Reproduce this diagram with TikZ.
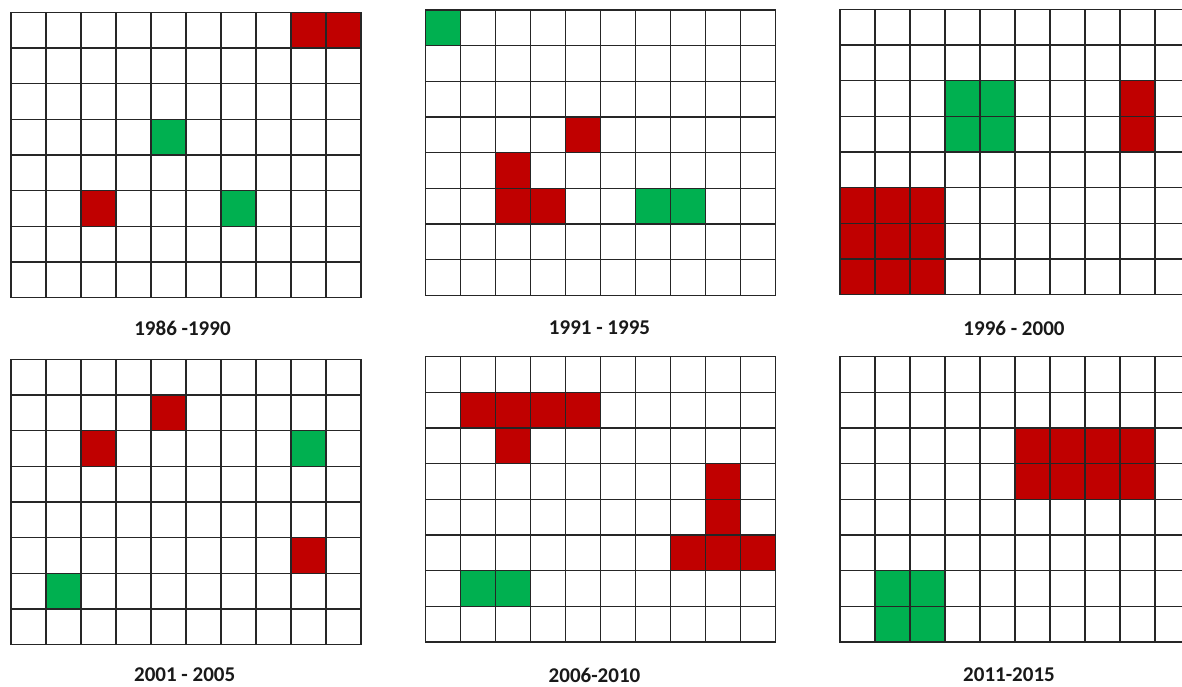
\documentclass[tikz,border=0pt]{standalone}
\usepackage{fontspec}
\setmainfont{Carlito}
\definecolor{cellred}{HTML}{C00000}
\definecolor{cellgreen}{HTML}{00B050}
\tikzset{
  gridline/.style={draw=black!85, line width=1.3pt, line cap=rect},
  redcell/.style={fill=cellred},
  greencell/.style={fill=cellgreen},
  yearlabel/.style={font=\bfseries\fontsize{21}{25}\selectfont, inner sep=0pt, text=black!90}
}
\newcommand\yeargrid[4]{%
  \begin{scope}[shift={(#1pt,-#2pt)}, x=35pt, y=-35.65pt]
    \foreach \c/\r in {#3} \fill[redcell] (\c,\r) rectangle ++(1,1);
    \foreach \c/\r in {#4} \fill[greencell] (\c,\r) rectangle ++(1,1);
    \foreach \i in {0,...,10} \draw[gridline] (\i,0) -- (\i,8);
    \foreach \j in {0,...,8} \draw[gridline] (0,\j) -- (10,\j);
  \end{scope}}
\begin{document}
\begin{tikzpicture}[x=1pt, y=-1pt]
  \useasboundingbox (0,0) rectangle (1182,686);
  \clip (0,0) rectangle (1182,686);
  \fill[white] (0,0) rectangle (1182,686);
  % 1986-1990
  \yeargrid{11}{12.3}{8/0,9/0,2/5}{4/3,6/5}
  % 1991-1995
  \yeargrid{425.7}{10}{4/3,2/4,2/5,3/5}{0/0,6/5,7/5}
  % 1996-2000
  \yeargrid{840}{9.3}{8/2,8/3,0/5,1/5,2/5,0/6,1/6,2/6,0/7,1/7,2/7}{3/2,4/2,3/3,4/3}
  % 2001-2005
  \yeargrid{11}{359.3}{4/1,2/2,8/5}{8/2,1/6}
  % 2006-2010
  \yeargrid{425.5}{356.7}{1/1,2/1,3/1,4/1,2/2,8/3,8/4,7/5,8/5,9/5}{1/6,2/6}
  % 2011-2015
  \yeargrid{840}{356.7}{5/2,6/2,7/2,8/2,5/3,6/3,7/3,8/3}{1/6,2/6,1/7,2/7}
  % labels
  \node[yearlabel] (l1) at (182.5,328) {1986 -1990};
  \node[yearlabel] (l2) at (599.5,328) {1991 - 1995};
  \node[yearlabel] (l3) at (1014,328) {1996 - 2000};
  \node[yearlabel] (l4) at (184.7,675) {2001 - 2005};
  \node[yearlabel] (l5) at (594.5,675) {2006-2010};
  \node[yearlabel] (l6) at (1009,675) {2011-2015};
\end{tikzpicture}
\end{document}
